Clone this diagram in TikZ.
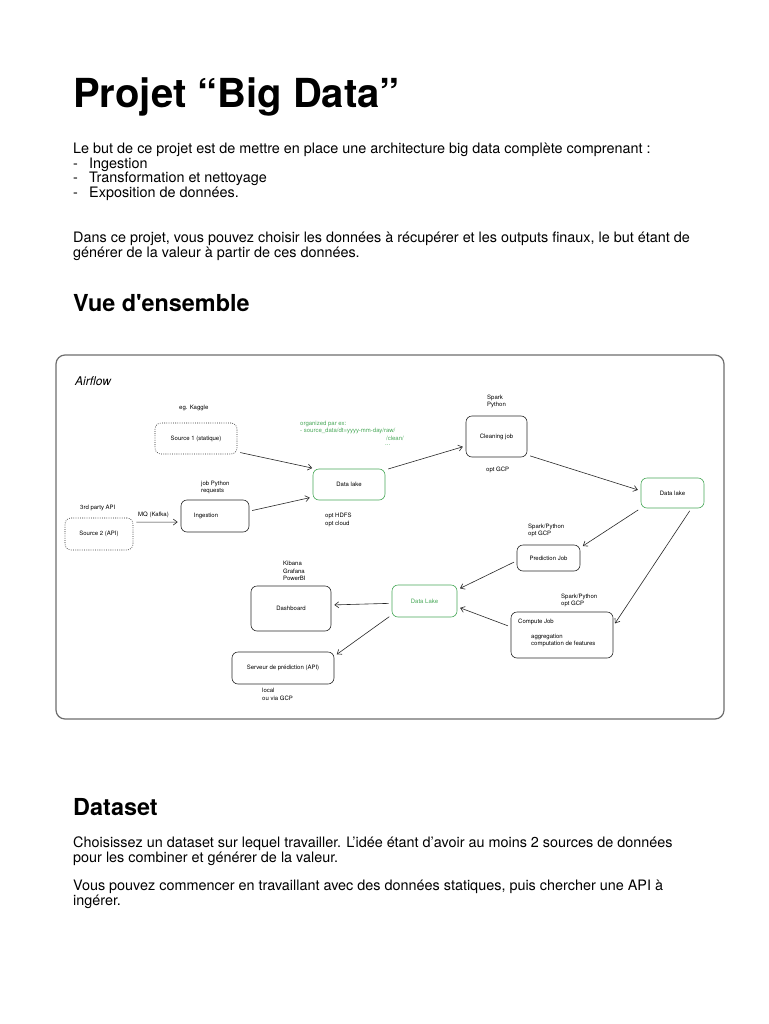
\documentclass[tikz,border=0pt]{standalone}
\usepackage{fontspec}
\setmainfont{TeX Gyre Heros}
\usetikzlibrary{arrows.meta,positioning,calc}

\definecolor{lakegreen}{RGB}{72,168,88}
\definecolor{framegray}{RGB}{110,110,110}
\definecolor{inkgray}{RGB}{40,40,40}

\begin{document}
\begin{tikzpicture}[
  x=1pt, y=-1pt,
  title/.style={anchor=base west, inner sep=0pt,
                font=\fontsize{40}{48}\selectfont\bfseries},
  heading/.style={anchor=base west, inner sep=0pt,
                  font=\fontsize{23.4}{28}\selectfont\bfseries},
  para/.style={anchor=base west, inner sep=0pt, align=left,
               font=\fontsize{14.4}{14.6}\selectfont},
  job/.style={draw=inkgray, rounded corners=6pt, line width=0.6pt,
              inner sep=0pt, align=center,
              font=\fontsize{6}{7.5}\selectfont},
  src/.style={job, dash pattern=on 0.8pt off 1.4pt},
  lake/.style={job, draw=lakegreen},
  note/.style={anchor=west, inner sep=0pt, align=left,
               font=\fontsize{6}{7.5}\selectfont},
  edge/.style={-{Straight Barb[length=4pt,width=6pt]}, line width=0.6pt,
               inkgray, shorten <=3pt, shorten >=3pt},
]
\fill[white] (0,0) rectangle (768,1024);
\useasboundingbox (0,0) rectangle (768,1024);

% page text (base = last line)
\node[title] (title) at (73,108) {Projet “Big Data”};
\node[para] (intro) at (73,197.5)
  {Le but de ce projet est de mettre en place une architecture big data complète comprenant :\\
   \makebox[16pt][l]{-}Ingestion\\
   \makebox[16pt][l]{-}Transformation et nettoyage\\
   \makebox[16pt][l]{-}Exposition de données.};
\node[para] (choice) at (73,257.5)
  {Dans ce projet, vous pouvez choisir les données à récupérer et les outputs finaux, le but étant de\\
   générer de la valeur à partir de ces données.};
\node[heading] (overview) at (73,311) {Vue d\textquotesingle ensemble};

% diagram frame
\draw[framegray, line width=1.2pt, rounded corners=9pt] (56,355) rectangle (724,719);
\node[note, font=\fontsize{12}{14}\selectfont\itshape] (airflow) at (75,381) {Airflow};

% sources and ingestion
\node[src, minimum width=82pt, minimum height=31pt] (src1) at (196,438.5) {Source 1 (statique)};
\node[src, minimum width=68pt, minimum height=32pt] (src2) at (99,534) {Source 2 (API)};
\node[job, minimum width=68pt, minimum height=32pt] (ingest) at (215,516) {Ingestion\hspace{18pt}};
\node[note] (kaggle) at (179,408) {eg. Kaggle};
\node[note] (thirdapi) at (80,508) {3rd party API};
\node[note] (kafka) at (138,515) {MQ (Kafka)};
\node[note] (pyreq) at (201,487.5) {job Python\\requests};

% first data lake and cleaning
\node[lake, minimum width=72pt, minimum height=31pt] (lake1) at (349,484.5) {Data lake};
\node[note] (hdfs) at (325,520) {opt HDFS\\opt cloud};
\node[note, text=lakegreen] (layout) at (300,427.5)
  {organized par ex:\\- source\_data/dt=yyyy-mm-day/raw/};
\node[note, anchor=east, text=lakegreen] (clean) at (404,438) {/clean/};
\node[note, text=lakegreen] (dots) at (385,445) {...};
\node[job, minimum width=61pt, minimum height=41pt] (cleaning) at (496.5,436.5) {Cleaning job};
\node[note] (spark1) at (487,401.5) {Spark\\Python};
\node[note] (gcp1) at (486,470) {opt GCP};

% second data lake and jobs
\node[lake, minimum width=63pt, minimum height=30pt] (lake2) at (672.5,493) {Data lake};
\node[job, minimum width=63pt, minimum height=26pt] (pred) at (548.5,558) {Prediction Job};
\node[note] (spark2) at (528,530.5) {Spark/Python\\opt GCP};
\node[job, minimum width=102pt, minimum height=46pt] (compute) at (562,635) {};
\node[note] (computettl) at (518,622) {Compute Job};
\node[note] (computetxt) at (531,640.5) {aggregation\\computation de features};
\node[note] (spark3) at (561,600.5) {Spark/Python\\opt GCP};

% exposition
\node[lake, minimum width=65pt, minimum height=32pt, text=lakegreen] (lake3) at (424.5,601) {Data Lake};
\node[job, minimum width=80pt, minimum height=45pt] (dash) at (291,608.5) {Dashboard};
\node[note] (viz) at (283,571) {Kibana\\Grafana\\PowerBI};
\node[job, minimum width=102pt, minimum height=32pt] (serveur) at (283,668) {Serveur de prédiction (API)};
\node[note] (local) at (262,694.5) {local\\ou via GCP};

% connectors
\draw[edge] (src1.-18) -- (lake1.155);
\draw[edge] (src2.19) -- (ingest.190);
\draw[edge] (ingest.8) -- (lake1.199);
\draw[edge] (lake1.22) -- (cleaning.197);
\draw[edge] (cleaning.-31) -- (lake2.176);
\draw[edge] (lake2.south west) -- (pred.18);
\draw[edge] (lake2.-39) -- (compute.10);
\draw[edge] (pred.185) -- (lake3.19);
\draw[edge] (compute.171) -- (lake3.-10);
\draw[edge] (lake3.184) -- (dash.5);
\draw[edge] (lake3.203) -- (serveur.13);

% dataset section
\node[heading] (dataset) at (73,815) {Dataset};
\node[para] (datatxt) at (73,862)
  {Choisissez un dataset sur lequel travailler. L’idée étant d’avoir au moins 2 sources de données\\
   pour les combiner et générer de la valeur.};
\node[para] (apitxt) at (73,905)
  {Vous pouvez commencer en travaillant avec des données statiques, puis chercher une API à\\
   ingérer.};
\end{tikzpicture}
\end{document}
